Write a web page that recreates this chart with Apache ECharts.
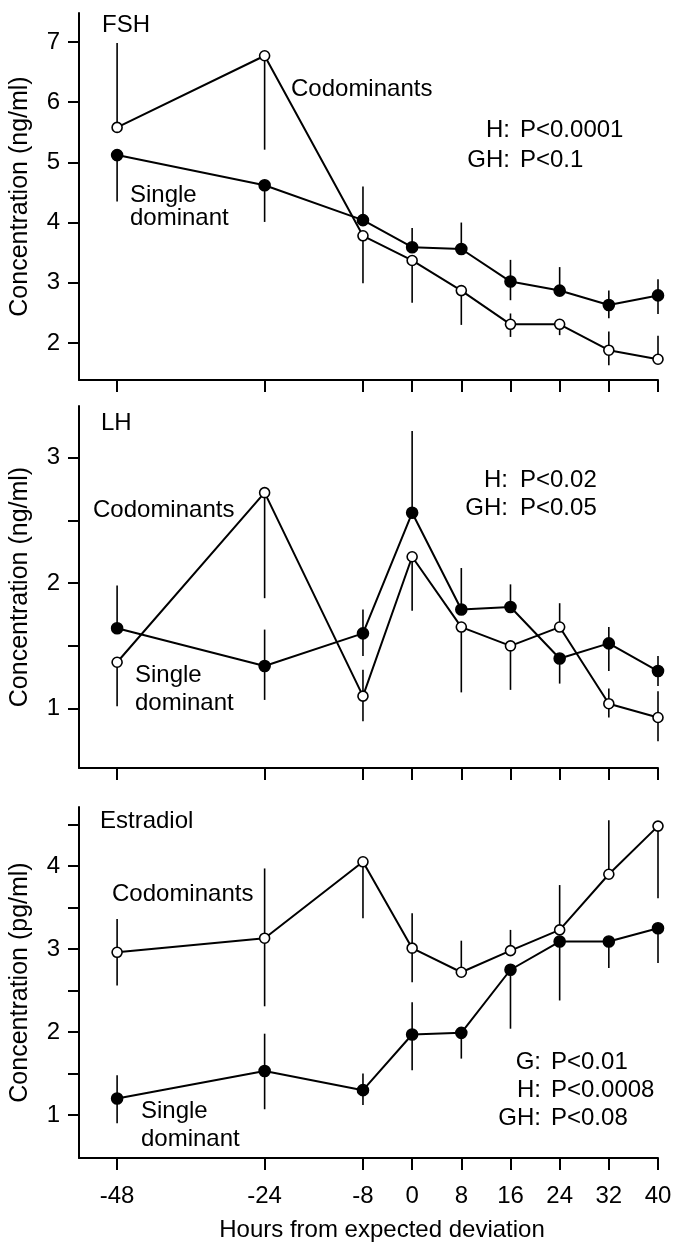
<!DOCTYPE html>
<html>
<head>
<meta charset="utf-8">
<script src="https://cdn.jsdelivr.net/npm/echarts@6/dist/echarts.min.js"></script>
<style>
html, body { margin: 0; padding: 0; background: #fff; }
#chart { width: 678px; height: 1243px; }
</style>
</head>
<body>
<div id="chart"></div>
<script>
// hours from expected deviation
const hours = [-48, -24, -8, 0, 8, 16, 24, 32, 40];

// FSH (ng/ml)
const fshCodom    = [5.58, 6.77, 3.78, 3.37, 2.87, 2.31, 2.31, 1.88, 1.73];
const fshCodomLo  = [5.58, 5.21, 2.99, 2.67, 2.30, 2.10, 2.13, 1.63, 1.73];
const fshCodomHi  = [6.98, 6.77, 3.78, 3.37, 2.87, 2.49, 2.31, 2.19, 2.12];
const fshSingle   = [5.12, 4.62, 4.04, 3.59, 3.56, 3.02, 2.87, 2.63, 2.79];
const fshSingleLo = [4.35, 4.01, 4.04, 3.59, 3.56, 2.71, 2.87, 2.41, 2.48];
const fshSingleHi = [5.12, 4.62, 4.60, 3.91, 4.00, 3.38, 3.26, 2.87, 3.06];

// LH (ng/ml)
const lhCodom    = [1.37, 2.72, 1.10, 2.21, 1.65, 1.50, 1.65, 1.04, 0.93];
const lhCodomLo  = [1.02, 1.88, 0.90, 1.78, 1.13, 1.15, 1.65, 0.93, 0.74];
const lhCodomHi  = [1.37, 2.72, 1.31, 2.21, 1.65, 1.50, 1.84, 1.16, 1.14];
const lhSingle   = [1.64, 1.34, 1.60, 2.56, 1.79, 1.81, 1.40, 1.52, 1.30];
const lhSingleLo = [1.64, 1.07, 1.42, 2.56, 1.79, 1.81, 1.20, 1.30, 1.18];
const lhSingleHi = [1.98, 1.63, 1.79, 3.21, 2.12, 1.99, 1.40, 1.65, 1.42];

// Estradiol (pg/ml)
const e2Codom    = [2.96, 3.13, 4.05, 3.01, 2.72, 2.98, 3.23, 3.90, 4.48];
const e2CodomLo  = [2.56, 2.31, 3.37, 2.60, 2.72, 2.98, 3.23, 3.90, 3.61];
const e2CodomHi  = [3.36, 3.97, 4.05, 3.43, 3.10, 3.23, 3.77, 4.55, 4.48];
const e2Single   = [1.20, 1.53, 1.30, 1.97, 1.99, 2.75, 3.09, 3.09, 3.25];
const e2SingleLo = [0.90, 1.07, 1.12, 1.54, 1.68, 2.04, 2.38, 2.77, 2.83];
const e2SingleHi = [1.48, 1.98, 1.50, 2.36, 1.99, 2.75, 3.09, 3.09, 3.25];

const fshTicks = [2, 3, 4, 5, 6, 7];
const lhTicks = [1, 1.5, 2, 2.5, 3];
const lhLabels = [1, 2, 3];
const e2Ticks = [1, 1.5, 2, 2.5, 3, 3.5, 4, 4.5];
const e2Labels = [1, 2, 3, 4];

const FONT = '"Liberation Sans", Arial, Helvetica, sans-serif';
const INK = '#000';

function xAxis(grid, showLabels) {
    return {
        type: 'value',
        gridIndex: grid,
        min: -54.2,
        max: 40,
        axisLine: { show: true, onZero: false, lineStyle: { color: INK, width: 2 } },
        axisTick: { show: true, length: 12, customValues: hours, lineStyle: { color: INK, width: 2 } },
        axisLabel: { show: showLabels, customValues: hours, margin: 26, fontSize: 24, color: INK, fontFamily: FONT },
        splitLine: { show: false }
    };
}

function yAxis(grid, min, max, ticks, labels, name) {
    return {
        type: 'value',
        gridIndex: grid,
        min: min,
        max: max,
        name: name,
        nameLocation: 'middle',
        nameGap: 46,
        nameTextStyle: { fontSize: 25, color: INK, fontFamily: FONT },
        axisLine: { show: true, onZero: false, lineStyle: { color: INK, width: 2 } },
        axisTick: { show: true, length: 11, customValues: ticks, lineStyle: { color: INK, width: 2 } },
        axisLabel: { customValues: labels, margin: 19, fontSize: 24, color: INK, fontFamily: FONT },
        splitLine: { show: false }
    };
}

function lineSeries(grid, values, open) {
    return {
        type: 'line',
        xAxisIndex: grid,
        yAxisIndex: grid,
        data: hours.map((h, i) => [h, values[i]]),
        symbol: 'circle',
        symbolSize: open ? 10 : 11,
        showAllSymbol: true,
        lineStyle: { color: INK, width: 2 },
        itemStyle: { color: open ? '#fff' : INK, borderColor: INK, borderWidth: 1.6 },
        z: 3
    };
}

function errorSeries(grid, lo, hi) {
    return {
        type: 'custom',
        xAxisIndex: grid,
        yAxisIndex: grid,
        data: hours.map((h, i) => [h, lo[i], hi[i]]),
        encode: { x: 0, y: [1, 2] },
        renderItem: (params, api) => {
            let a = api.coord([api.value(0), api.value(1)]);
            let b = api.coord([api.value(0), api.value(2)]);
            return {
                type: 'line',
                shape: { x1: a[0], y1: a[1], x2: b[0], y2: b[1] },
                style: { stroke: INK, lineWidth: 1.6 }
            };
        },
        z: 2
    };
}

function txt(x, y, s, align) {
    return {
        type: 'text',
        x: x,
        y: y,
        style: {
            text: s,
            fill: INK,
            font: '24px ' + FONT,
            textAlign: align || 'left',
            textVerticalAlign: 'middle'
        }
    };
}

let chart = echarts.init(document.getElementById('chart'));

let option = {
    animation: false,
    backgroundColor: '#fff',
    grid: [
        { left: 77, right: 20, top: 13, height: 367 },
        { left: 77, right: 20, top: 406, height: 362 },
        { left: 77, right: 20, top: 807, height: 351 }
    ],
    xAxis: [xAxis(0, false), xAxis(1, false), xAxis(2, true)],
    yAxis: [
        yAxis(0, 1.385, 7.48, fshTicks, fshTicks, 'Concentration (ng/ml)'),
        yAxis(1, 0.528, 3.41, lhTicks, lhLabels, 'Concentration (ng/ml)'),
        yAxis(2, 0.483, 4.71, e2Ticks, e2Labels, 'Concentration (pg/ml)')
    ],
    series: [
        errorSeries(0, fshCodomLo, fshCodomHi),
        errorSeries(0, fshSingleLo, fshSingleHi),
        lineSeries(0, fshCodom, true),
        lineSeries(0, fshSingle, false),
        errorSeries(1, lhCodomLo, lhCodomHi),
        errorSeries(1, lhSingleLo, lhSingleHi),
        lineSeries(1, lhCodom, true),
        lineSeries(1, lhSingle, false),
        errorSeries(2, e2CodomLo, e2CodomHi),
        errorSeries(2, e2SingleLo, e2SingleHi),
        lineSeries(2, e2Codom, true),
        lineSeries(2, e2Single, false)
    ],
    graphic: [
        // FSH panel
        txt(102, 25, 'FSH'),
        txt(291, 89, 'Codominants'),
        txt(130, 195, 'Single'),
        txt(130, 218, 'dominant'),
        txt(510, 130, 'H:', 'right'),
        txt(520, 130, 'P<0.0001'),
        txt(510, 160, 'GH:', 'right'),
        txt(520, 160, 'P<0.1'),
        // LH panel
        txt(101, 423, 'LH'),
        txt(93, 510, 'Codominants'),
        txt(135, 675, 'Single'),
        txt(135, 703, 'dominant'),
        txt(508, 480, 'H:', 'right'),
        txt(520, 480, 'P<0.02'),
        txt(508, 508, 'GH:', 'right'),
        txt(520, 508, 'P<0.05'),
        // Estradiol panel
        txt(100, 821, 'Estradiol'),
        txt(112, 894, 'Codominants'),
        txt(141, 1111, 'Single'),
        txt(141, 1139, 'dominant'),
        txt(541, 1062, 'G:', 'right'),
        txt(551, 1062, 'P<0.01'),
        txt(541, 1090, 'H:', 'right'),
        txt(551, 1090, 'P<0.0008'),
        txt(541, 1118, 'GH:', 'right'),
        txt(551, 1118, 'P<0.08'),
        // x axis title
        txt(382, 1230, 'Hours from expected deviation', 'center')
    ]
};

chart.setOption(option);
</script>
</body>
</html>
